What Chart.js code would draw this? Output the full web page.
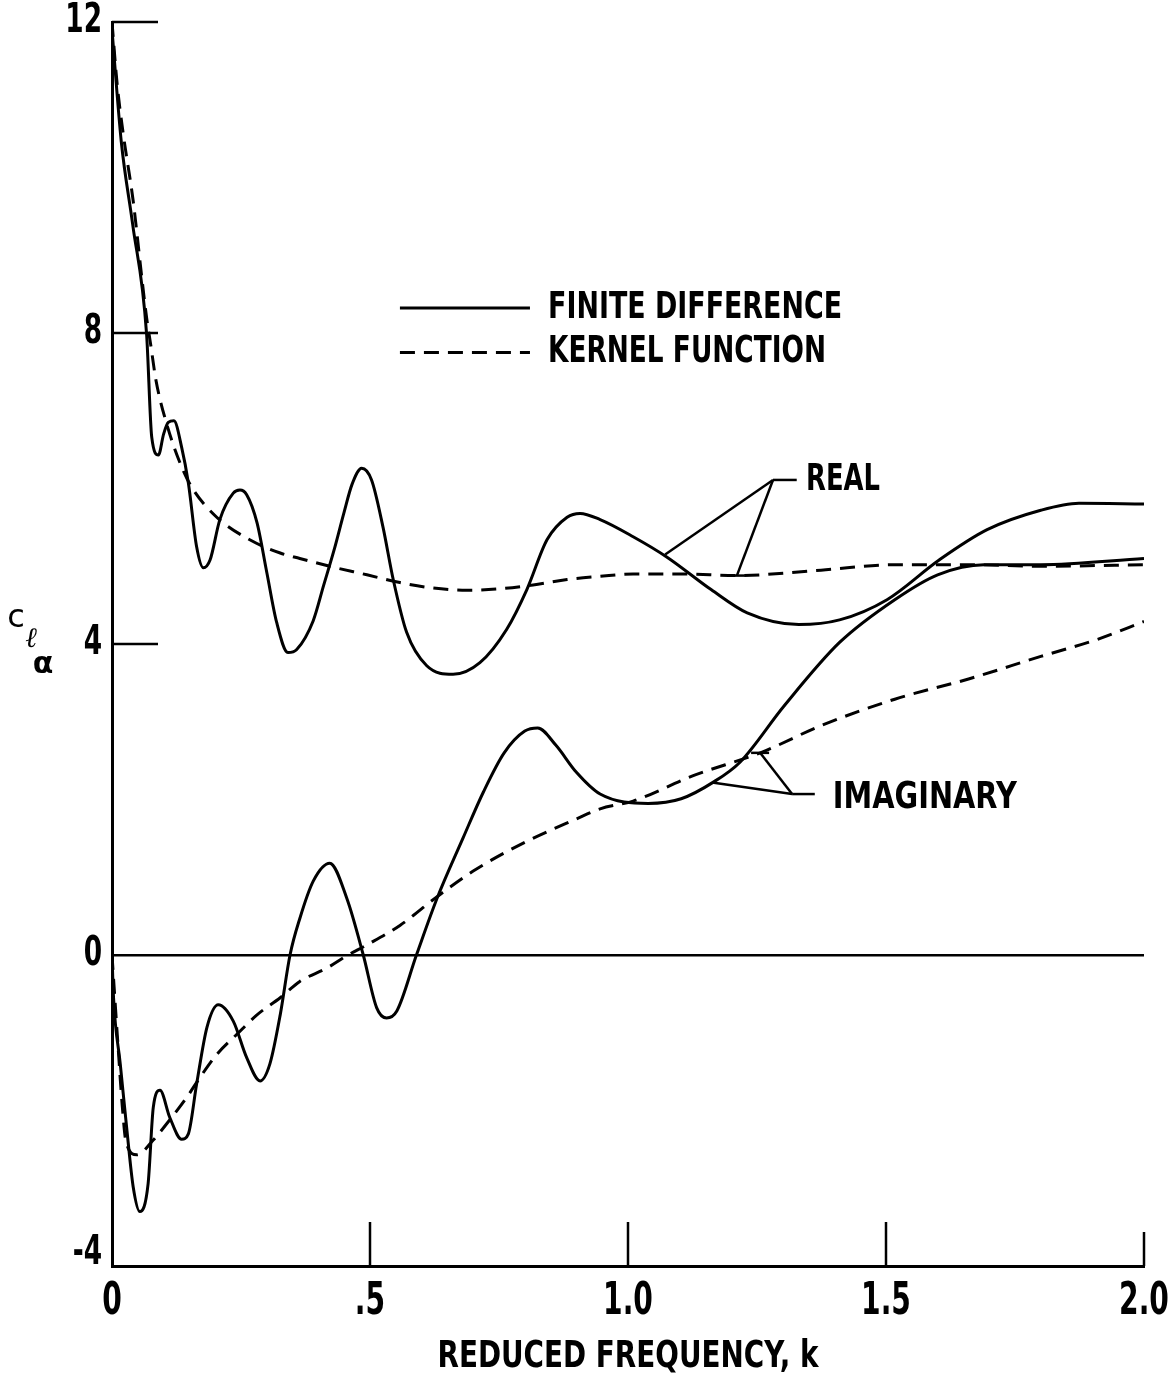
<!DOCTYPE html>
<html>
<head>
<meta charset="utf-8">
<script src="https://cdn.jsdelivr.net/npm/chart.js@4.4.1/dist/chart.umd.min.js"></script>
<style>
  html, body { margin: 0; padding: 0; background: #fff; }
  #wrap { width: 1175px; height: 1384px; position: relative; }
</style>
</head>
<body>
<div id="wrap"><canvas id="chart"></canvas></div>
<script>
// Lift-curve slope vs reduced frequency k
const realFdK = [0, 0.018, 0.04, 0.067, 0.077, 0.09, 0.1, 0.109, 0.12, 0.135, 0.148, 0.164, 0.177, 0.19, 0.209, 0.235, 0.248, 0.261, 0.281, 0.3, 0.319, 0.341, 0.358, 0.39, 0.41, 0.43, 0.45, 0.465, 0.484, 0.503, 0.525, 0.545, 0.571, 0.61, 0.661, 0.713, 0.765, 0.804, 0.843, 0.882, 0.907, 0.946, 1.01, 1.075, 1.161, 1.231, 1.331, 1.41, 1.502, 1.603, 1.696, 1.8, 1.874, 2.0];
const realFdVal = [11.9, 10.46, 9.4, 7.99, 6.66, 6.43, 6.7, 6.85, 6.87, 6.53, 6.07, 5.25, 4.98, 5.08, 5.6, 5.94, 5.98, 5.92, 5.56, 4.92, 4.28, 3.89, 3.93, 4.3, 4.75, 5.2, 5.7, 6.05, 6.26, 6.11, 5.51, 4.83, 4.15, 3.72, 3.61, 3.76, 4.19, 4.7, 5.34, 5.63, 5.68, 5.6, 5.38, 5.12, 4.7, 4.4, 4.25, 4.31, 4.57, 5.08, 5.47, 5.72, 5.81, 5.8];

const realKfK = [0, 0.01, 0.022, 0.041, 0.058, 0.067, 0.075, 0.085, 0.106, 0.138, 0.158, 0.203, 0.267, 0.326, 0.364, 0.428, 0.494, 0.558, 0.622, 0.688, 0.752, 0.816, 0.882, 0.946, 1.01, 1.107, 1.21, 1.374, 1.517, 1.66, 1.8, 2.0];
const realKfVal = [12.0, 11.2, 10.55, 9.7, 8.7, 8.2, 7.85, 7.4, 6.83, 6.23, 5.98, 5.63, 5.34, 5.17, 5.1, 4.99, 4.89, 4.79, 4.72, 4.69, 4.71, 4.76, 4.83, 4.87, 4.9, 4.9, 4.88, 4.95, 5.02, 5.02, 5.0, 5.02];

const imagFdK = [0, 0.003, 0.016, 0.029, 0.041, 0.054, 0.07, 0.08, 0.093, 0.112, 0.135, 0.148, 0.164, 0.184, 0.206, 0.235, 0.261, 0.287, 0.306, 0.326, 0.345, 0.364, 0.39, 0.422, 0.455, 0.487, 0.513, 0.532, 0.552, 0.59, 0.63, 0.68, 0.72, 0.76, 0.8, 0.825, 0.86, 0.9, 0.946, 1.039, 1.103, 1.167, 1.217, 1.302, 1.41, 1.517, 1.6, 1.69, 1.8, 2.0];
const imagFdVal = [0, -0.55, -1.4, -2.26, -2.98, -3.3, -2.94, -1.96, -1.74, -2.09, -2.37, -2.3, -1.66, -0.93, -0.64, -0.85, -1.32, -1.62, -1.4, -0.77, 0, 0.47, 0.95, 1.18, 0.73, 0, -0.68, -0.81, -0.72, 0, 0.73, 1.5, 2.1, 2.6, 2.88, 2.92, 2.7, 2.35, 2.07, 1.95, 2.01, 2.23, 2.48, 3.2, 4.02, 4.57, 4.89, 5.02, 5.02, 5.1];

const imagKfK = [0, 0.012, 0.02, 0.027, 0.048, 0.08, 0.106, 0.145, 0.171, 0.203, 0.242, 0.281, 0.326, 0.364, 0.416, 0.455, 0.494, 0.558, 0.63, 0.7, 0.8, 0.9, 0.946, 1.01, 1.124, 1.26, 1.374, 1.517, 1.66, 1.8, 1.91, 2.0];
const imagKfVal = [0, -1.2, -1.95, -2.4, -2.57, -2.38, -2.17, -1.83, -1.57, -1.28, -1.02, -0.77, -0.55, -0.34, -0.17, -0.01, 0.13, 0.38, 0.75, 1.08, 1.45, 1.75, 1.88, 1.98, 2.3, 2.61, 2.95, 3.29, 3.55, 3.84, 4.06, 4.29];

const xTicks = [0, 0.5, 1.0, 1.5, 2.0];
const xTickLabels = ['0', '.5', '1.0', '1.5', '2.0'];
const yTicks = [-4, 0, 4, 8, 12];
const yTickLabels = ['-4', '0', '4', '8', '12'];

const FONT = "'DejaVu Sans', sans-serif";
const DASH = [15, 9];

function pts(ks, vs) {
  return ks.map((k, i) => ({ x: k, y: vs[i] }));
}

function line(ctx, x1, y1, x2, y2) {
  ctx.beginPath();
  ctx.moveTo(x1, y1);
  ctx.lineTo(x2, y2);
  ctx.stroke();
}

// condensed text: squeezed horizontally by sx, anchored at x (left/center/right), centred on y
function narrowText(ctx, str, x, y, size, sx, align) {
  ctx.save();
  ctx.font = `bold ${size}px ${FONT}`;
  ctx.textBaseline = 'middle';
  ctx.textAlign = align || 'left';
  ctx.translate(x, y);
  ctx.scale(sx, 1);
  ctx.fillText(str, 0, 0);
  ctx.restore();
}

// same, but squeezed to an exact width with the left edge at x
function fitText(ctx, str, x, y, size, width) {
  ctx.save();
  ctx.font = `bold ${size}px ${FONT}`;
  const w = ctx.measureText(str).width;
  ctx.restore();
  narrowText(ctx, str, x, y, size, width / w, 'left');
}

const decorations = {
  id: 'decorations',
  afterDatasetsDraw(chart) {
    const { ctx, chartArea: a, scales: { x, y } } = chart;
    const px = v => x.getPixelForValue(v);
    const py = v => y.getPixelForValue(v);
    ctx.save();
    ctx.strokeStyle = '#000';
    ctx.fillStyle = '#000';
    ctx.lineWidth = 2.5;

    // inward tick marks
    yTicks.filter(v => v > 0).forEach(v => line(ctx, a.left, py(v), a.left + 46, py(v)));
    xTicks.filter(v => v > 0).forEach(v => {
      const len = v === 2 ? 34 : 44;
      line(ctx, px(v), a.bottom, px(v), a.bottom - len);
    });

    // tick labels
    x.ticks.forEach(t => {
      narrowText(ctx, xTickLabels[xTicks.indexOf(t.value)], px(t.value), a.bottom + 37, 44, 0.64, 'center');
    });
    y.ticks.forEach(t => {
      const cy = Math.min(py(t.value), a.bottom - 12);
      narrowText(ctx, yTickLabels[yTicks.indexOf(t.value)], a.left - 10, cy, 40, 0.66, 'right');
    });

    // legend
    ctx.lineWidth = 3;
    line(ctx, px(0.558), py(8.32), px(0.81), py(8.32));
    ctx.setLineDash(DASH);
    line(ctx, px(0.558), py(7.75), px(0.81), py(7.75));
    ctx.setLineDash([]);
    fitText(ctx, 'FINITE DIFFERENCE', px(0.845), py(8.32), 37, 294);
    fitText(ctx, 'KERNEL FUNCTION', px(0.845), py(7.75), 37, 278);

    // REAL callout
    ctx.lineWidth = 2.5;
    const rj = [px(1.281), py(6.11)];
    line(ctx, rj[0], rj[1], px(1.327), rj[1]);
    line(ctx, rj[0], rj[1], px(1.072), py(5.15));
    line(ctx, rj[0], rj[1], px(1.211), py(4.88));
    line(ctx, px(1.211) - 8, py(4.88), px(1.211) + 8, py(4.88));
    fitText(ctx, 'REAL', px(1.345), py(6.11), 37, 74);

    // IMAGINARY callout
    const ij = [px(1.318), py(2.07)];
    line(ctx, ij[0], ij[1], px(1.362), ij[1]);
    line(ctx, ij[0], ij[1], px(1.163), py(2.22));
    line(ctx, ij[0], ij[1], px(1.256), py(2.6));
    line(ctx, px(1.256) - 9, py(2.6), px(1.256) + 9, py(2.6));
    fitText(ctx, 'IMAGINARY', px(1.397), py(2.01), 37, 184);

    // x axis title
    const tw = 381;
    fitText(ctx, 'REDUCED FREQUENCY, k', (a.left + a.right) / 2 - tw / 2, 1357, 37, tw);

    // y axis symbol: c, subscript l, subscript alpha
    ctx.textAlign = 'center';
    ctx.textBaseline = 'middle';
    ctx.font = "32px 'DejaVu Sans', sans-serif";
    ctx.fillText('c', 16, 619);
    ctx.font = "italic 28px 'DejaVu Serif', serif";
    ctx.fillText('\u2113', 31, 640);
    ctx.font = "bold 30px 'DejaVu Sans', sans-serif";
    ctx.fillText('\u03b1', 43, 665);
    ctx.restore();
  }
};

new Chart(document.getElementById('chart'), {
  type: 'line',
  data: {
    datasets: [
      { label: 'Real, finite difference', data: pts(realFdK, realFdVal) },
      { label: 'Real, kernel function', data: pts(realKfK, realKfVal), borderDash: DASH },
      { label: 'Imaginary, finite difference', data: pts(imagFdK, imagFdVal) },
      { label: 'Imaginary, kernel function', data: pts(imagKfK, imagKfVal), borderDash: DASH }
    ]
  },
  options: {
    responsive: true,
    maintainAspectRatio: false,
    animation: false,
    events: [],
    layout: { padding: { top: 22, right: 31, left: 0, bottom: 0 } },
    elements: {
      line: { borderColor: '#000', borderWidth: 3, cubicInterpolationMode: 'monotone', fill: false },
      point: { radius: 0 }
    },
    plugins: { legend: { display: false }, tooltip: { enabled: false } },
    scales: {
      x: {
        type: 'linear',
        min: 0,
        max: 2,
        afterBuildTicks: s => { s.ticks = xTicks.map(v => ({ value: v })); },
        afterFit: s => { s.height = 118; s.paddingLeft = 0; s.paddingRight = 0; },
        ticks: { display: false },
        grid: { display: false },
        border: { display: true, color: '#000', width: 3 }
      },
      y: {
        type: 'linear',
        min: -4,
        max: 12,
        afterBuildTicks: s => { s.ticks = yTicks.map(v => ({ value: v })); },
        afterFit: s => { s.width = 112; s.paddingTop = 0; s.paddingBottom = 0; },
        ticks: { display: false },
        grid: {
          drawTicks: false,
          lineWidth: 2.5,
          color: c => (c.tick && c.tick.value === 0 ? '#000' : 'rgba(0,0,0,0)')
        },
        border: { display: true, color: '#000', width: 3 }
      }
    }
  },
  plugins: [decorations]
});
</script>
</body>
</html>
